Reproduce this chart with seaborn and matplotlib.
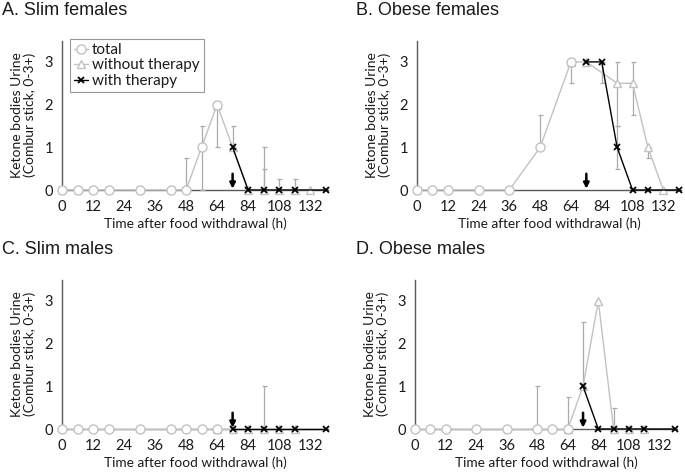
import numpy as np
import pandas as pd
import seaborn as sns
import matplotlib.pyplot as plt

sns.set_theme(style='white')
plt.rcParams['font.family'] = ['Lato', 'DejaVu Sans']

nan = np.nan

# time points (h) on the category axis, therapy started at 72 h
times = [0, 6, 12, 18, 24, 30, 36, 42, 48, 56, 64, 72, 84, 96, 108, 120, 132, 144]
therapy_start = 72

titles = ['A. Slim females', 'B. Obese females', 'C. Slim males', 'D. Obese males']
series_names = ['total', 'without therapy', 'with therapy']

# median scores (Combur stick)
a_total = [0, 0, 0, 0, nan, 0, nan, 0, 0, 1, 2, nan, nan, nan, nan, nan, nan, nan]
a_without = [nan] * 10 + [2, 1, 0, 0, 0, 0, 0, nan]
a_with = [nan] * 11 + [1, 0, 0, 0, 0, nan, 0]

b_total = [0, 0, 0, nan, 0, nan, 0, nan, 1, nan, 3, nan, nan, nan, nan, nan, nan, nan]
b_without = [nan] * 10 + [3, 3, nan, 2.5, 2.5, 1, 0, nan]
b_with = [nan] * 11 + [3, 3, 1, 0, 0, nan, 0]

c_total = [0, 0, 0, 0, nan, 0, nan, 0, 0, 0, 0, nan, nan, nan, nan, nan, nan, nan]
c_without = [nan] * 10 + [0, 0, 0, 0, 0, 0, nan, nan]
c_with = [nan] * 11 + [0, 0, 0, 0, 0, nan, 0]

d_total = [0, 0, 0, nan, 0, nan, 0, nan, 0, 0, 0, nan, nan, nan, nan, nan, nan, nan]
d_without = [nan] * 10 + [0, 1, 3, 0, 0, 0, nan, nan]
d_with = [nan] * 11 + [1, 0, 0, 0, 0, nan, 0]

# error bars: time, median, lower, upper
a_err_t = [48, 56, 64, 72, 96, 96, 108, 120]
a_err_mid = [0, 1, 2, 1, 0, 0, 0, 0]
a_err_lo = [0, 0, 1, 1, 0, 0, 0, 0]
a_err_hi = [0.75, 1.5, 2, 1.5, 0.5, 1, 0.25, 0.25]

b_err_t = [48, 64, 84, 96, 96, 108, 120]
b_err_mid = [1, 3, 3, 1, 2.5, 2.5, 1]
b_err_lo = [1, 2.5, 2.5, 0.5, 1.5, 1.75, 0.75]
b_err_hi = [1.75, 3, 3, 1.5, 3, 3, 1]

c_err_t = [96]
c_err_mid = [0]
c_err_lo = [0]
c_err_hi = [1]

d_err_t = [48, 64, 72, 96]
d_err_mid = [0, 0, 1, 0]
d_err_lo = [0, 0, 1, 0]
d_err_hi = [1, 0.75, 2.5, 0.5]

panels = [
    (a_total, a_without, a_with, a_err_t, a_err_mid, a_err_lo, a_err_hi),
    (b_total, b_without, b_with, b_err_t, b_err_mid, b_err_lo, b_err_hi),
    (c_total, c_without, c_with, c_err_t, c_err_mid, c_err_lo, c_err_hi),
    (d_total, d_without, d_with, d_err_t, d_err_mid, d_err_lo, d_err_hi),
]

GRAY = '#C2C2C2'
ERR = '#ABABAB'
AXC = '#595959'
TXT = '#1a1a1a'

fig = plt.figure(figsize=(6.85, 4.73), dpi=100)
W, H = 685, 473
# axes boxes in pixels: left, y of zero line, width
boxes = [(62, 190, 266), (417, 190, 264), (62, 429, 266), (415, 429, 262)]
title_pos = [(2, 2), (356, 2), (2, 241), (356, 241)]
unit = 42.7

pos = np.arange(len(times))
for k, (box, data) in enumerate(zip(boxes, panels)):
    left, y0, wid = box
    ax = fig.add_axes([left / W, (H - y0) / H, wid / W, 3.5 * unit / H])
    total, without, with_, et, emid, elo, ehi = data

    ex = [times.index(t) for t in et]
    emid = np.array(emid)
    ax.errorbar(ex, emid, yerr=[emid - np.array(elo), np.array(ehi) - emid],
                fmt='none', ecolor=ERR, elinewidth=0.9, capsize=1.8,
                capthick=0.9, zorder=3, clip_on=False)

    styles = [
        (total, dict(color=GRAY, marker='o', markersize=6.5, markerfacecolor='white',
                     markeredgecolor=GRAY, markeredgewidth=1.0, zorder=5)),
        (without, dict(color=GRAY, marker='^', markersize=5.5, markerfacecolor='white',
                       markeredgecolor=GRAY, markeredgewidth=1.0, zorder=4)),
        (with_, dict(color='black', marker='x', markersize=4.5, markeredgecolor='black',
                     markeredgewidth=1.3, zorder=6)),
    ]
    for name, (vals, kw) in zip(series_names, styles):
        df = pd.DataFrame({'pos': pos, 'value': vals}).dropna()
        sns.lineplot(data=df, x='pos', y='value', ax=ax, linewidth=1.0,
                     label=name if k == 0 else None, legend=(k == 0),
                     clip_on=False, **kw)

    ti = times.index(therapy_start)
    ax.annotate('', xy=(ti, 0.03), xytext=(ti, 0.38),
                arrowprops=dict(arrowstyle='-|>', color='black', lw=1.8,
                                mutation_scale=8, shrinkA=0, shrinkB=0), zorder=7)

    ax.set_xlim(0, 17.15)
    ax.set_ylim(0, 3.5)
    ax.set_xticks(pos)
    ax.set_xticklabels([str(t) if i % 2 == 0 else '' for i, t in enumerate(times)])
    ax.set_yticks([0, 1, 2, 3])
    ax.tick_params(axis='both', direction='out', length=3.5, width=0.8, color=AXC,
                   labelsize=10.5, labelcolor=TXT, pad=3)
    ax.tick_params(axis='x', pad=4)
    for s in ['top', 'right']:
        ax.spines[s].set_visible(False)
    for s in ['left', 'bottom']:
        ax.spines[s].set_color(AXC)
        ax.spines[s].set_linewidth(1.0)
    ax.set_xlabel('Time after food withdrawal (h)', fontsize=9.8, color=TXT, labelpad=2)
    ax.set_ylabel('Ketone bodies Urine\n(Combur stick, 0-3+)', fontsize=10, color=TXT,
                  labelpad=6, linespacing=1.1)

    if k == 0:
        leg = ax.legend(loc='upper left', bbox_to_anchor=(0.03, 1.01), fontsize=11,
                        frameon=True, fancybox=False, edgecolor='#7f7f7f',
                        handlelength=0.9, handletextpad=0.3, borderpad=0.25,
                        labelspacing=0.1, borderaxespad=0)
        leg.get_frame().set_linewidth(0.8)
        for t in leg.get_texts():
            t.set_color(TXT)

    tx, ty = title_pos[k]
    fig.text(tx / W, 1 - ty / H, titles[k], fontsize=13, family='Liberation Sans',
             color=TXT, ha='left', va='top')

fig.savefig('out.png', dpi=100)
